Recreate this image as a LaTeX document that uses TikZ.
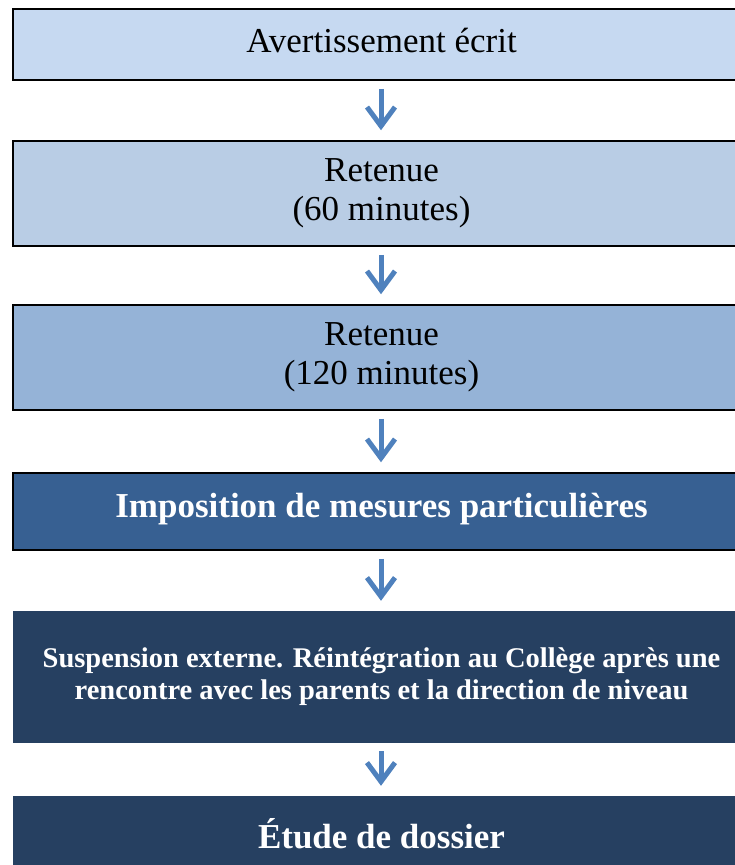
\documentclass[tikz,border=0pt]{standalone}
\usepackage{fontspec}
\setmainfont{Liberation Serif}
\usetikzlibrary{arrows.meta}
\definecolor{c1}{RGB}{198,217,241}
\definecolor{c2}{RGB}{185,205,229}
\definecolor{c3}{RGB}{149,179,215}
\definecolor{c4}{RGB}{55,96,146}
\definecolor{c5}{RGB}{38,64,97}
\definecolor{arrowblue}{RGB}{79,129,189}
\tikzset{
  box/.style={rectangle, minimum width=737pt, inner sep=0pt, align=center, font=\fontsize{35}{39}\selectfont},
  lightbox/.style={box, draw=black, line width=1.5pt, text=black},
  darkbox/.style={box, text=white, font=\fontsize{35}{39}\selectfont\bfseries},
  arr/.style={draw=arrowblue, line width=5pt, -{Straight Barb[length=19pt,width=28pt,line width=5pt]}, shorten <=8pt, shorten >=10pt}
}
\begin{document}
\begin{tikzpicture}[x=1pt,y=-1pt]
\useasboundingbox (0,0) rectangle (735,865);
\clip (0,0) rectangle (735,865);
\node[lightbox, fill=c1, minimum height=71pt, text depth=8pt] (b1) at (381.5,44.5) {Avertissement écrit};
\node[lightbox, fill=c2, minimum height=105pt] (b2) at (381.5,193.5) {Retenue\\(60 minutes)};
\node[lightbox, fill=c3, minimum height=105pt] (b3) at (381.5,357.5) {Retenue\\(120 minutes)};
\node[lightbox, fill=c4, minimum height=77pt, text=white, text depth=13pt, font=\fontsize{35}{39}\selectfont\bfseries] (b4) at (381.5,511.5) {Imposition de mesures particulières};
\node[darkbox, fill=c5, minimum height=132pt, font=\fontsize{28.5}{32}\selectfont\bfseries] (b5) at (381.5,677) {Suspension externe. Réintégration au Collège après une\\rencontre avec les parents et la direction de niveau};
\node[darkbox, fill=c5, minimum height=84pt, text depth=9pt] (b6) at (381.5,838) {Étude de dossier};
\draw[arr] (b1.south -| 381,0) -- (b2.north -| 381,0);
\draw[arr] (b2.south -| 381,0) -- (b3.north -| 381,0);
\draw[arr] (b3.south -| 381,0) -- (b4.north -| 381,0);
\draw[arr] (b4.south -| 381,0) -- (b5.north -| 381,0);
\draw[arr] (b5.south -| 381,0) -- (b6.north -| 381,0);
\end{tikzpicture}
\end{document}
